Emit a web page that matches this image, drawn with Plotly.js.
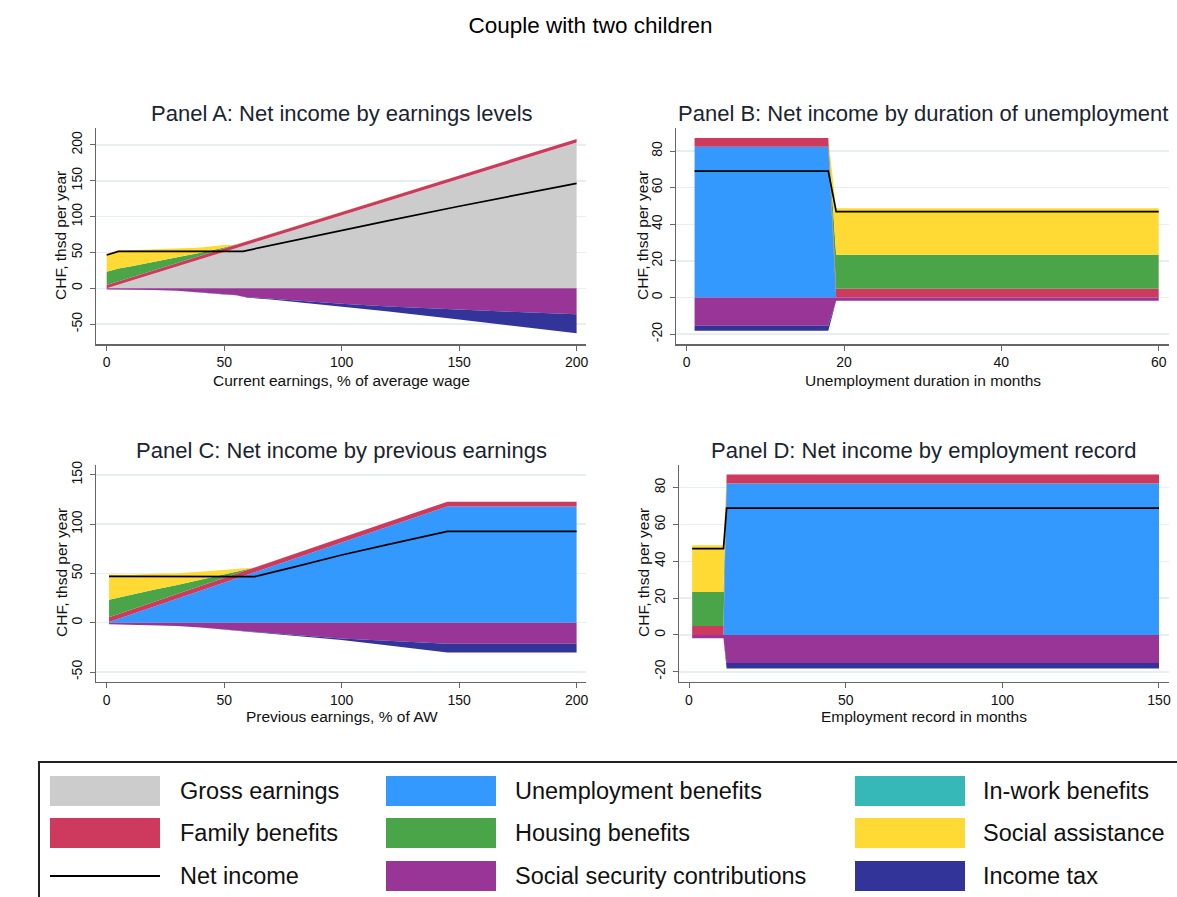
<!DOCTYPE html>
<html>
<head>
<meta charset="utf-8">
<script src="https://cdn.plot.ly/plotly-3.0.1.min.js"></script>
<style>html,body{margin:0;padding:0;background:#fff;}#chart{width:1177px;height:897px;}</style>
</head>
<body>
<div id="chart"></div>
<script>
// ---------- DATA (CHF thousand per year) ----------
// Panel A: by current earnings (% of average wage)
const aX       = [0, 5, 10, 20, 30, 40, 50, 55, 58, 60, 70, 80, 90, 100, 120, 150, 175, 200];
const aGross   = [0, 5.1, 10.2, 20.4, 30.6, 40.8, 51, 56.1, 59.2, 61.2, 71.4, 81.6, 91.8, 102, 122.4, 153, 178.5, 203.5];
const aFamily  = [4.8, 4.8, 4.8, 4.8, 4.8, 4.8, 4.8, 4.8, 4.8, 4.8, 4.8, 4.8, 4.8, 4.8, 4.8, 4.8, 4.8, 4.8];
const aHousing = [18.4, 17.6, 15.5, 11.5, 7.5, 4.2, 1.3, 0, 0, 0, 0, 0, 0, 0, 0, 0, 0, 0];
const aSocial  = [24.8, 25.6, 22.5, 17.3, 12.6, 7.2, 3.4, 0, 0, 0, 0, 0, 0, 0, 0, 0, 0, 0];
const aSSC     = [-1.5, -1.6, -1.8, -2.4, -3.5, -5.5, -8.5, -9.5, -11.8, -12.3, -14.5, -17, -19.5, -21.5, -25.5, -30, -33.2, -36.3];
const aTax     = [0, 0, 0, 0, 0, 0, 0, -0.2, -0.5, -0.7, -1.2, -2, -3, -4, -7, -13.5, -20, -26.5];
const aNet     = [46.5, 51.5, 51.5, 51.5, 51.5, 51.5, 51.5, 51.5, 51.5, 53, 60, 67, 74.5, 81.4, 94.5, 114.5, 130.5, 146.5];

// Panel B: by duration of unemployment (months)
const bX       = [1, 18, 19, 60];
const bUB      = [82.3, 82.3, 0, 0];
const bFamily  = [4.8, 4.8, 4.8, 4.8];
const bHousing = [0, 0, 18.5, 18.5];
const bSocial  = [0, 0, 25.4, 25.4];
const bSSC     = [-15.4, -15.4, -1.8, -1.8];
const bTax     = [-2.8, -2.8, 0, 0];
const bNet     = [69, 69, 46.9, 46.9];

// Panel C: by previous earnings (% of AW)
const cX       = [1, 10, 20, 30, 40, 50, 60, 63, 80, 100, 120, 145, 200];
const cUB      = [0.8, 8.1, 16.3, 24.4, 32.6, 40.7, 48.8, 51.3, 65.1, 81.4, 97.7, 118, 118];
const cFamily  = [4.8, 4.8, 4.8, 4.8, 4.8, 4.8, 4.8, 4.8, 4.8, 4.8, 4.8, 4.8, 4.8];
const cHousing = [17.8, 15.5, 12.3, 9.2, 6.2, 3.2, 0.3, 0, 0, 0, 0, 0, 0];
const cSocial  = [25.6, 20.4, 16.3, 11.8, 8.2, 5.1, 1.4, 0, 0, 0, 0, 0, 0];
const cSSC     = [-1.5, -1.8, -2.3, -3.2, -4.8, -6.8, -8.5, -9, -12.5, -16, -18.5, -21.2, -21.2];
const cTax     = [0, 0, 0, 0, 0, 0, -0.3, -0.4, -0.8, -1.5, -4.5, -9, -9];
const cNet     = [47, 47, 47, 47, 47, 47, 47, 46.7, 56.6, 68.7, 79.5, 92.6, 92.6];

// Panel D: by employment record (months)
const dX       = [1, 11, 12, 150];
const dUB      = [0, 0, 82.3, 82.3];
const dFamily  = [4.8, 4.8, 4.8, 4.8];
const dHousing = [18.5, 18.5, 0, 0];
const dSocial  = [25.4, 25.4, 0, 0];
const dSSC     = [-1.8, -1.8, -15.2, -15.2];
const dTax     = [0, 0, -3, -3];
const dNet     = [46.9, 46.9, 68.9, 68.9];

// Tick values
const aXTicks = [0, 50, 100, 150, 200];
const aYTicks = [-50, 0, 50, 100, 150, 200];
const bXTicks = [0, 20, 40, 60];
const bYTicks = [-20, 0, 20, 40, 60, 80];
const cXTicks = [0, 50, 100, 150, 200];
const cYTicks = [-50, 0, 50, 100, 150];
const dXTicks = [0, 50, 100, 150];
const dYTicks = [-20, 0, 20, 40, 60, 80];

// Texts
const mainTitle = 'Couple with two children';
const panelTitles = ['Panel A: Net income by earnings levels', 'Panel B: Net income by duration of unemployment',
                     'Panel C: Net income by previous earnings', 'Panel D: Net income by employment record'];
const xTitles = ['Current earnings, % of average wage', 'Unemployment duration in months',
                 'Previous earnings, % of AW', 'Employment record in months'];
const yTitle = 'CHF, thsd per year';
const legendRows = [
  ['Gross earnings', 'Unemployment benefits', 'In-work benefits'],
  ['Family benefits', 'Housing benefits', 'Social assistance'],
  ['Net income', 'Social security contributions', 'Income tax']
];

// ---------- STYLE ----------
const COL = {
  'Gross earnings': '#cccccc',
  'Unemployment benefits': '#3399ff',
  'In-work benefits': '#36b8b8',
  'Family benefits': '#cd3a5d',
  'Housing benefits': '#49a547',
  'Social assistance': '#ffda35',
  'Social security contributions': '#983596',
  'Income tax': '#33349a',
  'Net income': '#000000'
};
const W = 1177, H = 897;
const px = x => x / W;
const py = y => 1 - y / H;
const FONT = 'Liberation Sans, Arial, sans-serif';

function area(x, y, name, xa, ya, group) {
  return {x: x, y: y, name: name, type: 'scatter', mode: 'lines', stackgroup: group + xa,
          line: {width: 0, color: COL[name]}, fillcolor: COL[name], xaxis: xa, yaxis: ya, hoverinfo: 'x+y+name'};
}
function netLine(x, y, xa, ya) {
  return {x: x, y: y, name: 'Net income', type: 'scatter', mode: 'lines',
          line: {width: 1.7, color: '#000'}, xaxis: xa, yaxis: ya};
}

const traces = [];
function panel(xa, ya, x, base, baseName, fam, hous, soc, ssc, tax, net) {
  traces.push(area(x, base, baseName, xa, ya, 'pos'));
  traces.push(area(x, fam, 'Family benefits', xa, ya, 'pos'));
  traces.push(area(x, hous, 'Housing benefits', xa, ya, 'pos'));
  traces.push(area(x, soc, 'Social assistance', xa, ya, 'pos'));
  traces.push(area(x, ssc, 'Social security contributions', xa, ya, 'neg'));
  traces.push(area(x, tax, 'Income tax', xa, ya, 'neg'));
  traces.push(netLine(x, net, xa, ya));
}
panel('x', 'y', aX, aGross, 'Gross earnings', aFamily, aHousing, aSocial, aSSC, aTax, aNet);
panel('x2', 'y2', bX, bUB, 'Unemployment benefits', bFamily, bHousing, bSocial, bSSC, bTax, bNet);
panel('x3', 'y3', cX, cUB, 'Unemployment benefits', cFamily, cHousing, cSocial, cSSC, cTax, cNet);
panel('x4', 'y4', dX, dUB, 'Unemployment benefits', dFamily, dHousing, dSocial, dSSC, dTax, dNet);

const tickFont = {family: FONT, size: 14, color: '#111'};
function xAxis(dom, range, ticks, anchor) {
  return {domain: [px(dom[0]), px(dom[1])], range: range, anchor: anchor, tickmode: 'array', tickvals: ticks,
          ticktext: ticks.map(v => String(v)), showgrid: false, zeroline: false, showline: true,
          linecolor: '#666', linewidth: 1.5, ticks: 'outside', ticklen: 5, tickcolor: '#666', tickwidth: 1,
          tickfont: tickFont, automargin: false, fixedrange: true, ticklabelstandoff: 0};
}
function yAxis(dom, range, ticks, anchor) {
  return {domain: [py(dom[1]), py(dom[0])], range: range, anchor: anchor, tickmode: 'array', tickvals: ticks,
          ticktext: ticks.map(v => String(v)), showgrid: true, gridcolor: '#e6eef0', gridwidth: 1.5,
          zeroline: false, showline: true, linecolor: '#666', linewidth: 1.5, ticks: 'outside', ticklen: 5,
          tickcolor: '#666', tickwidth: 1, tickangle: -90, tickfont: tickFont, automargin: false, fixedrange: true,
          ticklabelstandoff: 2};
}

const annotations = [];
const titleFont = {family: FONT, size: 22, color: '#1a2430'};
const panelTitlePos = [[341.7, 113], [922.7, 113], [341.7, 451], [923.5, 451]];
panelTitles.forEach((t, i) => annotations.push({text: t, x: px(panelTitlePos[i][0]), y: py(panelTitlePos[i][1]),
  xref: 'paper', yref: 'paper', xanchor: 'center', yanchor: 'middle', showarrow: false, font: titleFont}));
const xTitlePos = [[341.7, 380], [922.7, 380], [341.7, 716.5], [923.5, 716.5]];
xTitles.forEach((t, i) => annotations.push({text: t, x: px(xTitlePos[i][0]), y: py(xTitlePos[i][1]),
  xref: 'paper', yref: 'paper', xanchor: 'center', yanchor: 'middle', showarrow: false,
  font: {family: FONT, size: 15.5, color: '#111'}}));
const yTitlePos = [[61, 236], [643, 236], [61, 573], [643, 573]];
yTitlePos.forEach(p => annotations.push({text: yTitle, x: px(p[0]), y: py(p[1]), textangle: -90,
  xref: 'paper', yref: 'paper', xanchor: 'center', yanchor: 'middle', showarrow: false,
  font: {family: FONT, size: 15.5, color: '#111'}}));

// Legend (drawn as shapes + text)
const shapes = [];
shapes.push({type: 'rect', xref: 'paper', yref: 'paper', x0: px(39), x1: px(1200), y0: py(762), y1: py(920),
  line: {color: '#222', width: 2}, fillcolor: 'rgba(0,0,0,0)'});
const swatchX = [[50, 160], [386, 496], [855, 965]];
const labelX = [178, 513, 981];
const rowY = [791, 833, 876];
legendRows.forEach((row, r) => row.forEach((name, c) => {
  if (name === 'Net income') {
    shapes.push({type: 'line', xref: 'paper', yref: 'paper', x0: px(swatchX[c][0]), x1: px(swatchX[c][1]),
      y0: py(rowY[r]), y1: py(rowY[r]), line: {color: '#000', width: 2}});
  } else {
    shapes.push({type: 'rect', xref: 'paper', yref: 'paper', x0: px(swatchX[c][0]), x1: px(swatchX[c][1]),
      y0: py(rowY[r] - 15), y1: py(rowY[r] + 15), line: {width: 0}, fillcolor: COL[name]});
  }
  annotations.push({text: name, x: px(labelX[c]), y: py(rowY[r]), xref: 'paper', yref: 'paper',
    xanchor: 'left', yanchor: 'middle', showarrow: false, font: {family: FONT, size: 23.5, color: '#111'}});
}));

const layout = {
  width: W, height: H, margin: {l: 0, r: 0, t: 0, b: 0}, paper_bgcolor: '#fff', plot_bgcolor: '#fff',
  showlegend: false, hovermode: false,
  title: {text: mainTitle, x: 590.5 / W, xref: 'container', y: 1 - 25 / H, yref: 'container',
          xanchor: 'center', yanchor: 'middle', font: {family: FONT, size: 22.5, color: '#000'}},
  xaxis: xAxis([96, 586], [-4.55, 204], aXTicks, 'y'),
  yaxis: yAxis([128, 344], [-77.7, 223.7], aYTicks, 'x'),
  xaxis2: xAxis([676, 1168.7], [-1.36, 61.27], bXTicks, 'y2'),
  yaxis2: yAxis([128.3, 344], [-25.4, 92.4], bYTicks, 'x2'),
  xaxis3: xAxis([96, 586], [-4.55, 204], cXTicks, 'y3'),
  yaxis3: yAxis([465, 681.7], [-59.8, 160], cYTicks, 'x3'),
  xaxis4: xAxis([679.3, 1168.7], [-3.1, 153.1], dXTicks, 'y4'),
  yaxis4: yAxis([465, 681.7], [-25.4, 92.3], dYTicks, 'x4'),
  annotations: annotations, shapes: shapes
};
Plotly.newPlot('chart', traces, layout, {staticPlot: true, displayModeBar: false});
</script>
</body>
</html>
